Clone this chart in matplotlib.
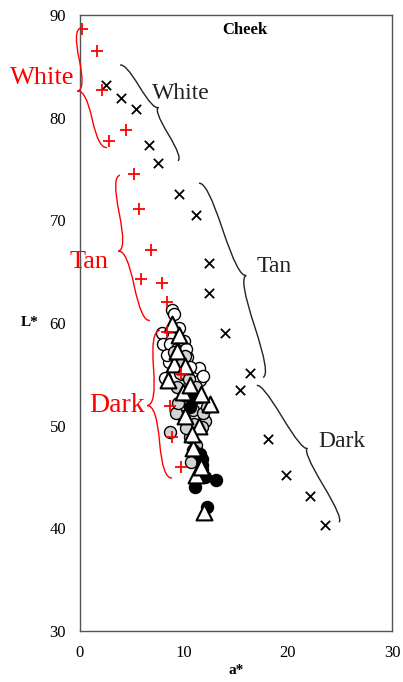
import matplotlib.pyplot as plt
import numpy as np
from matplotlib.path import Path
from matplotlib.patches import PathPatch
from matplotlib.transforms import IdentityTransform

plt.rcParams['font.family'] = ['Liberation Serif', 'DejaVu Serif']

# cheek colour readings (a*, L*)
red_a = [0.2, 1.6, 2.1, 4.4, 2.8, 5.2, 5.7, 6.8, 5.9, 7.9, 8.4, 8.4, 9.7, 8.7, 8.8, 9.7]
red_L = [88.6, 86.5, 82.7, 78.8, 77.7, 74.5, 71.1, 67.1, 64.3, 63.9, 62.0, 59.1, 55.0, 51.9, 48.9, 46.0]

cross_a = [2.5, 3.9, 5.4, 6.6, 7.5, 9.5, 11.2, 12.4, 12.4, 13.9, 16.3, 15.4, 18.1, 19.8, 22.1, 23.6]
cross_L = [83.2, 81.9, 80.8, 77.3, 75.6, 72.6, 70.5, 65.8, 62.9, 59.0, 55.1, 53.5, 48.7, 45.2, 43.1, 40.3]

white_a = [8.8, 9.0, 7.9, 8.0, 8.7, 10.3, 11.4, 11.5, 10.6, 8.2, 9.3, 8.6,
           9.5, 10.0, 8.4, 9.8, 11.0, 10.2, 11.8]
white_L = [61.3, 60.9, 59.0, 58.0, 58.0, 56.7, 55.6, 54.4, 55.7, 54.6, 57.5, 56.2,
           59.5, 58.2, 56.9, 55.0, 53.6, 57.5, 54.8]

grey_a = [9.0, 10.1, 9.3, 11.4, 12.0, 11.7, 10.6, 8.7, 11.2, 10.7, 9.9, 10.9, 9.6, 10.4, 11.0, 9.2,
          9.7, 10.5, 11.2, 9.4, 10.2, 11.4, 10.9, 11.8, 10.0, 12.2]
grey_L = [57.2, 56.8, 53.8, 52.8, 50.5, 49.9, 48.9, 49.4, 48.1, 46.5, 50.9, 51.5, 55.1, 52.4, 50.2, 51.2,
          56.0, 54.5, 53.8, 52.2, 49.8, 47.2, 47.6, 51.2, 53.0, 51.8]

black_a = [10.6, 11.7, 11.7, 13.1, 11.1, 12.2, 11.7, 10.9, 11.5, 12.0]
black_L = [51.8, 46.8, 46.2, 44.7, 44.0, 42.1, 45.7, 52.6, 47.2, 45.0]

tri_a = [8.8, 9.5, 9.0, 10.1, 8.5, 9.9, 12.5, 10.1, 11.4, 10.9, 11.2, 11.9,
         9.3, 10.6, 11.6, 10.8, 11.6]
tri_L = [59.9, 58.8, 56.0, 55.8, 54.4, 53.3, 52.1, 50.9, 50.0, 47.8, 45.2, 41.6,
         57.3, 54.0, 53.1, 49.2, 46.0]

yellow_a = [10.5]
yellow_L = [53.3]

# brace annotations: (start, end, depth in px)
braces_red = [((0.1, 88.75), (2.6, 77.1), 17),
              ((3.85, 74.4), (6.73, 60.25), 17),
              ((7.69, 59.3), (8.85, 44.9), 19)]
braces_black = [((3.85, 85.1), (9.42, 75.8), 11),
                ((11.44, 73.6), (17.6, 54.7), 16),
                ((17.0, 53.9), (24.9, 40.6), 11)]

fig = plt.figure(figsize=(4.03, 6.82), dpi=100)
ax = fig.add_axes([0.1985, 0.0748, 0.7742, 0.9032])

ax.scatter(white_a, white_L, s=75, facecolor='white', edgecolor='black', linewidth=1.0, zorder=2)
ax.scatter(grey_a, grey_L, s=75, facecolor='#d3d3d3', edgecolor='black', linewidth=1.0, zorder=3)
ax.scatter(yellow_a, yellow_L, s=45, facecolor='#f2b705', edgecolor='#f2b705', zorder=3)
ax.scatter(black_a, black_L, s=75, facecolor='black', edgecolor='black', zorder=4)
ax.scatter(tri_a, tri_L, s=130, marker='^', facecolor='white', edgecolor='black', linewidth=1.5, zorder=5)
ax.scatter(cross_a, cross_L, s=45, marker='x', color='black', linewidth=1.3, zorder=6)
ax.scatter(red_a, red_L, s=75, marker='+', color='red', linewidth=1.3, zorder=7)

ax.set_xlim(0, 30)
ax.set_ylim(30, 90)
ax.set_xticks([0, 10, 20, 30])
ax.set_yticks([30, 40, 50, 60, 70, 80, 90])
ax.tick_params(length=0, labelsize=12, pad=10)
for sp in ax.spines.values():
    sp.set_color('#555555')
    sp.set_linewidth(1.0)

ax.set_xlabel('a*', fontsize=11, fontweight='bold', labelpad=2)
ax.set_ylabel('L*', fontsize=11, fontweight='bold', rotation=0, labelpad=14, va='center')
ax.text(0.53, 0.975, 'Cheek', transform=ax.transAxes, fontsize=12, fontweight='bold',
        ha='center', va='center')

fig.canvas.draw()


def brace(p0, p1, depth, side, color):
    # curly brace drawn in display space between two data points
    a = ax.transData.transform(p0)
    b = ax.transData.transform(p1)
    d = b - a
    length = np.hypot(*d)
    u = d / length
    n = np.array([u[1], -u[0]])
    if (n[0] < 0) != (side == 'left'):
        n = -n
    h = depth * fig.dpi / 100
    r = length * 0.25
    L2 = length / 2
    pts_local = [(0, 0), (0, h / 2), (r, h / 2), (L2, h / 2), (L2, h),
                 (L2, h / 2), (L2 + r, h / 2), (length, h / 2), (length, 0)]
    codes = [Path.MOVETO, Path.CURVE3, Path.CURVE3, Path.CURVE3, Path.CURVE3,
             Path.CURVE3, Path.CURVE3, Path.CURVE3, Path.CURVE3]
    pts = [a + t * u + s * n for t, s in pts_local]
    patch = PathPatch(Path(pts, codes), transform=IdentityTransform(), facecolor='none',
                      edgecolor=color, linewidth=1.0, zorder=8)
    ax.add_artist(patch)
    patch.set_clip_on(False)


for p0, p1, dep in braces_red:
    brace(p0, p1, dep, 'left', 'red')
for p0, p1, dep in braces_black:
    brace(p0, p1, dep, 'right', '#222222')

ax.text(-3.65, 83.9, 'White', color='red', fontsize=19, ha='center', va='center', clip_on=False)
ax.text(0.87, 65.9, 'Tan', color='red', fontsize=19, ha='center', va='center', clip_on=False)
ax.text(3.56, 52.0, 'Dark', color='red', fontsize=20, ha='center', va='center', clip_on=False)
ax.text(6.9, 82.4, 'White', color='#222222', fontsize=17, ha='left', va='center')
ax.text(17.0, 65.5, 'Tan', color='#222222', fontsize=17, ha='left', va='center')
ax.text(22.9, 48.5, 'Dark', color='#222222', fontsize=17, ha='left', va='center')

fig.savefig('out.png', dpi=100)
